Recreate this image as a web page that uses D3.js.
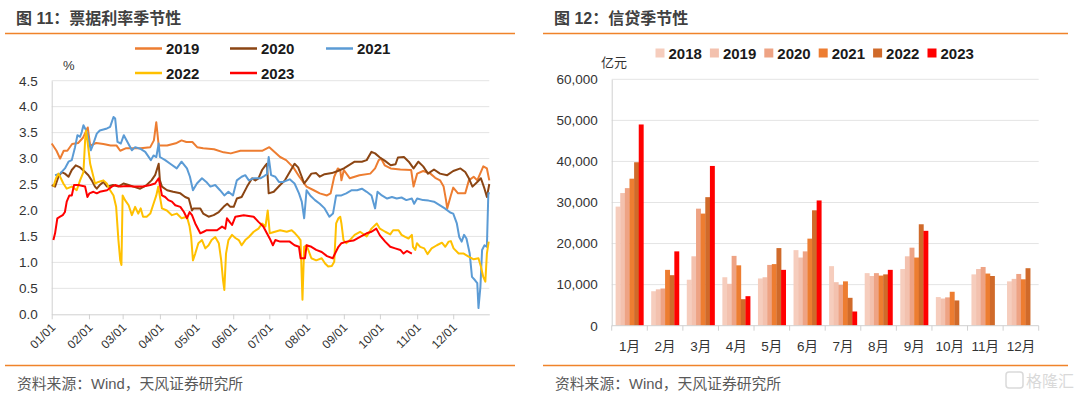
<!DOCTYPE html>
<html>
<head>
<meta charset="utf-8">
<script src="https://cdn.jsdelivr.net/npm/d3@7"></script>
<style>
  body{margin:0;background:#fff;}
  svg{display:block;font-family:"Liberation Sans",Arial,"Noto Sans CJK SC",sans-serif;}
  .title{font-size:16px;font-weight:bold;fill:#404040;font-family:"Liberation Sans","Noto Sans CJK SC",sans-serif;}
  .source{font-size:14.8px;fill:#595959;}
  .tick-label{font-size:13px;fill:#333;}
  .legend-label{font-size:15px;font-weight:bold;fill:#1a1a1a;}
</style>
</head>
<body>
<svg id="chart" width="1080" height="395"></svg>
<script>
// data ------------------------------------------------
// left chart: bill rate by day of year (0 = 01/01), %
var rate2019=[[0,3.29],[4,3.15],[7,3.0],[10,3.15],[13,3.15],[17,3.28],[22,3.3],[26,3.4],[30,3.6],[32,3.25],[37,3.3],[43,3.28],[49,3.25],[54,3.25],[57,3.15],[62,3.2],[74,3.2],[82,3.22],[85,3.35],[87,3.7],[89,3.25],[96,3.25],[104,3.3],[108,3.35],[112,3.32],[117,3.32],[121,3.22],[126,3.2],[135,3.18],[143,3.12],[149,3.1],[157,3.15],[168,3.15],[175,3.15],[181,3.22],[190,3.03],[195,2.97],[201,2.83],[206,2.65],[212,2.46],[218,2.39],[223,2.33],[229,2.29],[232,2.33],[235,2.65],[238,2.81],[240,2.78],[241,2.58],[243,2.78],[248,2.62],[256,2.68],[265,2.71],[269,2.81],[272,2.97],[274,3.0],[277,2.87],[282,2.81],[290,2.79],[299,2.78],[301,2.46],[304,2.71],[309,2.76],[315,2.71],[319,2.63],[323,2.58],[326,2.46],[328,2.2],[329,2.04],[332,2.29],[334,2.44],[338,2.33],[344,2.33],[347,2.58],[351,2.65],[354,2.58],[359,2.85],[362,2.81],[364,2.58]];
var rate2020=[[0,2.49],[2.8,2.46],[5.6,2.65],[8.3,2.74],[11,2.71],[14,2.65],[16.7,2.78],[20,2.87],[23.6,2.83],[27.8,2.74],[30.5,2.68],[33.3,2.58],[36,2.46],[37.5,2.42],[40,2.49],[43,2.55],[46,2.46],[51,2.49],[55.5,2.46],[59.7,2.52],[64,2.49],[68,2.46],[73.6,2.42],[79,2.49],[83,2.58],[86,2.68],[89,2.9],[90,2.58],[91.7,2.46],[96,2.39],[101,2.36],[107,2.33],[111,2.26],[114,2.23],[116.7,2.0],[118,2.04],[123.6,2.04],[126,1.94],[130.5,1.88],[134.7,1.91],[139,1.97],[143,2.07],[146,2.13],[148.6,2.07],[151.4,2.07],[154,2.23],[158,2.26],[162.5,2.46],[166.7,2.62],[169.4,2.58],[172,2.62],[175,2.78],[177.8,2.87],[179,2.9],[180.5,2.33],[184.7,2.36],[190,2.49],[194,2.58],[198,2.74],[202,2.9],[205,2.83],[208,2.65],[210,2.52],[212,2.58],[216,2.71],[220,2.72],[223,2.65],[227,2.7],[233,2.72],[238,2.76],[243,2.81],[247,2.87],[252,2.94],[258,2.94],[262,2.97],[266,3.13],[269,3.1],[273,3.02],[277,2.96],[282,2.87],[286,2.89],[288,3.02],[293,3.03],[297,2.94],[301,2.81],[305,2.94],[309,2.85],[313,2.71],[318,2.79],[323,2.71],[329,2.68],[334,2.76],[340,2.81],[344,2.74],[347,2.62],[350,2.46],[354,2.55],[357,2.62],[360,2.42],[362,2.26],[364,2.51]];
var rate2021=[[2.8,2.68],[7,2.71],[11,2.81],[14,2.94],[16.7,2.97],[19.4,3.22],[21.4,3.45],[23.6,3.42],[25,3.51],[26.4,3.64],[27.8,3.58],[29.7,3.48],[32.5,3.16],[34.7,3.29],[37.5,3.48],[40,3.54],[46,3.58],[48.6,3.61],[51.4,3.8],[52.8,3.77],[54.7,3.32],[57.5,3.29],[60,3.45],[63,3.32],[66.7,3.16],[69.4,3.22],[73.6,3.19],[77.8,3.13],[82.5,2.97],[84.7,3.06],[87,3.03],[89,3.29],[90,3.03],[94.4,2.97],[98.6,2.9],[104,2.81],[108,2.94],[112.5,2.81],[115,2.65],[117.5,2.39],[120.8,2.52],[125,2.62],[128.6,2.55],[132,2.46],[136,2.49],[140,2.39],[143.6,2.29],[147,2.36],[150.8,2.29],[154,2.58],[158,2.65],[161,2.68],[164,2.58],[168,2.62],[173.6,2.62],[176,2.65],[179,2.7],[180.5,3.03],[182.5,2.68],[186,2.65],[189,2.55],[192.7,2.55],[198,2.6],[202,2.52],[205.7,2.33],[208,2.17],[210,1.85],[212,2.39],[215,2.29],[219,2.2],[223,2.13],[227,2.04],[231,1.88],[234,1.94],[236.6,2.29],[241,2.29],[245,2.33],[249.6,2.39],[254,2.39],[258,2.42],[262,2.36],[266,2.29],[269,2.04],[271,2.36],[274.6,2.29],[279,2.23],[283,2.26],[287,2.23],[291,2.25],[295,2.2],[299.6,2.23],[301.5,2.13],[304,2.23],[309,2.2],[313.5,2.19],[318,2.17],[323,2.1],[327,2.04],[331.5,1.96],[334,1.94],[337,1.75],[339,1.49],[341,1.4],[343,1.53],[345,1.46],[347.7,1.17],[349.6,0.72],[352,0.66],[354,0.6],[355,0.12],[356.6,0.53],[358,1.24],[360,1.33],[362,1.3],[363.2,2.33],[364.4,2.33]];
var rate2022=[[1.4,2.46],[3.6,2.62],[5.6,2.71],[7,2.65],[9.7,2.52],[12.5,2.42],[16.7,2.46],[20.8,2.39],[23.6,2.58],[26.4,2.74],[27.8,3.35],[28.6,3.54],[29.7,3.35],[32,2.9],[34.7,2.65],[36,2.52],[38.9,2.55],[43,2.58],[45.8,2.52],[48.6,2.39],[51.4,2.29],[53.6,2.07],[55.5,1.43],[57,1.04],[58,0.95],[59,2.29],[61,2.2],[64,2.1],[66.7,1.91],[69.4,2.07],[72,1.94],[74,2.04],[76,1.88],[79,1.88],[82,1.94],[84.7,2.13],[87,2.29],[88.6,2.46],[90.3,2.23],[91.7,2.04],[95.8,2.0],[100,1.91],[104,1.94],[108,1.85],[112.5,1.88],[114.7,1.69],[116,1.49],[117.5,1.04],[119.4,1.17],[122,1.37],[125,1.43],[127.8,1.27],[130.5,1.33],[133,1.43],[136,1.49],[139,1.37],[141,1.04],[142.5,0.66],[143.6,0.47],[145,1.17],[147,1.43],[150,1.53],[152.8,1.47],[155.6,1.43],[158,1.33],[161,1.43],[164,1.49],[168,1.59],[172,1.65],[175,1.75],[177.8,1.69],[179.7,2.0],[181.4,1.56],[185.7,1.59],[190,1.62],[195.5,1.59],[199.6,1.62],[202.4,1.56],[205,1.49],[207,1.43],[208.6,0.28],[210,1.3],[212,1.33],[216,1.08],[220,1.04],[224.6,1.08],[227.4,0.98],[230,0.92],[233,0.93],[235,1.01],[236.6,1.75],[238.5,1.85],[240,1.88],[241,1.75],[242.7,1.43],[245,1.37],[248,1.43],[252,1.53],[256.5,1.59],[262,1.5],[266,1.65],[270.4,1.75],[273,1.65],[277.4,1.59],[281.6,1.54],[284,1.62],[288.5,1.62],[291,1.53],[294,1.49],[296.8,1.46],[299.6,1.53],[300.5,1.3],[302.4,1.24],[303.8,1.37],[306.5,1.3],[309.9,1.27],[312.6,1.16],[316,1.27],[320.4,1.33],[324.6,1.38],[327.4,1.3],[330.2,1.4],[332,1.41],[334.3,1.27],[338.5,1.17],[342.7,1.17],[346.8,1.11],[351,1.06],[355,1.08],[357,0.92],[359,0.72],[360.7,0.63],[362,1.17],[363.5,1.4]];
var rate2023=[[1.4,1.43],[2.8,1.56],[4.7,1.85],[7,1.88],[9.2,1.91],[11,1.97],[12.5,2.17],[14.7,2.29],[16.7,2.29],[18.6,2.49],[22,2.49],[27.8,2.46],[29.7,2.26],[31.4,2.33],[34.7,2.36],[37.5,2.33],[40,2.36],[46,2.39],[50,2.46],[52.8,2.49],[57,2.46],[62.5,2.47],[68,2.46],[76,2.46],[82,2.49],[86,2.52],[89,2.62],[90.3,2.46],[91.7,2.29],[94.4,2.26],[97,2.2],[100,2.17],[102.8,2.1],[107,2.07],[110,1.97],[112.5,1.85],[114.7,1.97],[116.7,1.91],[119.4,1.75],[123.6,1.56],[126.4,1.59],[129,1.62],[137.5,1.62],[141.7,1.69],[144.4,1.65],[145.8,1.85],[148,1.78],[150,1.72],[152.8,1.88],[159.7,1.91],[168,1.88],[172,1.78],[176,1.69],[179,1.56],[182,1.43],[184,1.33],[186,1.43],[190,1.4],[192.7,1.4],[198,1.4],[202,1.33],[205.7,1.3],[207,1.08],[210.7,1.08],[212,1.33],[216,1.3],[220,1.24],[224.6,1.2],[229,1.12],[233.8,1.08],[235.7,1.17],[238.5,1.3],[241,1.37],[245.4,1.4],[251,1.42],[256.5,1.49],[262,1.56],[266,1.59],[270,1.65],[273,1.52],[277.4,1.4],[281.6,1.3],[285.7,1.27],[290,1.24],[292.7,1.17],[295.4,1.22],[299.6,1.17]];

var rateYears=['2019','2020','2021','2022','2023'];
var rateColors=['#ed7d31','#8b4513','#5b9bd5','#ffc000','#ff0000'];
var rateSeries=[rate2019,rate2020,rate2021,rate2022,rate2023];
var rateTicks=[0,0.5,1,1.5,2,2.5,3,3.5,4,4.5];

// right chart: new loans by month, 亿元
var months=['1月','2月','3月','4月','5月','6月','7月','8月','9月','10月','11月','12月'];
var loanYears=['2018','2019','2020','2021','2022','2023'];
var loanColors=['#f6cdbd','#f3c1ae','#eea384','#ed7d31','#d06a2a','#ff0000'];
var loan2018=[29000,8393,11200,11800,11500,18400,14500,12800,13800,6970,12500,10800];
var loan2019=[32300,8858,16900,10200,11800,16600,10600,12100,16900,6613,13800,11400];
var loan2020=[33500,9057,28500,17000,14800,18100,9927,12800,19000,6898,14300,12600];
var loan2021=[35800,13600,27300,14700,15000,21200,10800,12200,16600,8262,12700,11300];
var loan2022=[39800,12300,31300,6454,18900,28100,6790,12500,24700,6152,12100,14000];
var loan2023=[49000,18100,38900,7188,13600,30500,3459,13600,23100,null,null,null];
var loanSeries=[loan2018,loan2019,loan2020,loan2021,loan2022,loan2023];
var loanTicks=[0,10000,20000,30000,40000,50000,60000];

// dom -------------------------------------------------
var svg=d3.select('#chart');
svg.append('rect').attr('width',1080).attr('height',395).attr('fill','#fff');

var orange='#f0832a';
var gridColor='#e4e4e4';
var axisColor='#d0d0d0';

//frames, titles and sources
function frame(x0,x1,title){
  svg.append('text').attr('class','title').attr('x',x0+11).attr('y',24).text(title);
  svg.append('line').attr('x1',x0).attr('x2',x1).attr('y1',33.5).attr('y2',33.5)
    .attr('stroke',orange).attr('stroke-width',1.6);
  svg.append('line').attr('x1',x0).attr('x2',x1).attr('y1',365.5).attr('y2',365.5)
    .attr('stroke',orange).attr('stroke-width',1.6);
  svg.append('text').attr('class','source').attr('x',x0+12).attr('y',389).text('资料来源：Wind，天风证券研究所');
}
frame(5,515,'图 11：票据利率季节性');
frame(543,1068,'图 12：信贷季节性');

// left: line chart ------------------------------------
var base=new Date(2019,0,1);
function dayDate(d){return new Date(base.getTime()+d*864e5);}

var x=d3.scaleTime().domain([base,new Date(2019,11,31)]).range([51.7,489.3]);
var y=d3.scaleLinear().domain([0,4.5]).range([314.3,80.7]);

var left=svg.append('g');
left.selectAll('.grid').data(rateTicks.slice(1)).enter().append('line')
  .attr('x1',x.range()[0]).attr('x2',x.range()[1])
  .attr('y1',d=>y(d)).attr('y2',d=>y(d))
  .attr('stroke',gridColor).attr('stroke-width',1);

var yAxisL=left.append('g').attr('transform','translate('+x.range()[0]+',0)')
  .call(d3.axisLeft(y).tickValues(rateTicks).tickFormat(d3.format('.1f')).tickSize(0).tickPadding(14));
yAxisL.select('.domain').attr('stroke',axisColor);
yAxisL.selectAll('text').attr('class','tick-label').style('font-size','13.5px');

var xAxisL=left.append('g').attr('transform','translate(0,'+y(0)+')')
  .call(d3.axisBottom(x).ticks(d3.timeMonth.every(1)).tickFormat(d3.timeFormat('%m/%d')).tickSize(5).tickSizeOuter(0));
xAxisL.select('.domain').attr('stroke',axisColor);
xAxisL.selectAll('line').attr('stroke',axisColor);
xAxisL.selectAll('text').attr('class','tick-label').style('font-size','12px')
  .attr('text-anchor','end').attr('dy',0).attr('y',0)
  .attr('transform','translate(4,14) rotate(-45)');

var line=d3.line().x(d=>x(dayDate(d[0]))).y(d=>y(d[1]));
rateSeries.forEach((s,i)=>{
  left.append('path').datum(s).attr('d',line)
    .attr('fill','none').attr('stroke',rateColors[i]).attr('stroke-width',2)
    .attr('stroke-linejoin','round');
});

left.append('text').attr('x',63).attr('y',70).style('font-size','13px').attr('fill','#333').text('%');

//legend: 3 in first row, 2 in second
var legPos=[[135,48.5],[230,48.5],[326,48.5],[135,73],[230,73]];
rateYears.forEach((yr,i)=>{
  var p=legPos[i];
  left.append('line').attr('x1',p[0]).attr('x2',p[0]+27).attr('y1',p[1]).attr('y2',p[1])
    .attr('stroke',rateColors[i]).attr('stroke-width',2.5);
  left.append('text').attr('class','legend-label').attr('x',p[0]+31).attr('y',p[1]+5.5).text(yr);
});

// right: grouped bars ---------------------------------
var xm=d3.scaleBand().domain(months).range([611.7,1038.7]).paddingInner(0.22).paddingOuter(0.11);
var xy=d3.scaleBand().domain(loanYears).range([0,xm.bandwidth()]);
var yl=d3.scaleLinear().domain([0,60000]).range([325.7,79.3]);

var right=svg.append('g');
right.selectAll('.grid').data(loanTicks.slice(1)).enter().append('line')
  .attr('x1',611.7).attr('x2',1038.7)
  .attr('y1',d=>yl(d)).attr('y2',d=>yl(d))
  .attr('stroke',gridColor).attr('stroke-width',1);

var yAxisR=right.append('g').attr('transform','translate(611.7,0)')
  .call(d3.axisLeft(yl).tickValues(loanTicks).tickFormat(d3.format(',')).tickSize(0).tickPadding(14));
yAxisR.select('.domain').attr('stroke',axisColor);
yAxisR.selectAll('text').attr('class','tick-label').style('font-size','13.5px');

//bars
loanSeries.forEach((s,j)=>{
  right.append('g').selectAll('rect')
    .data(s.map((v,i)=>({m:months[i],v:v})).filter(d=>d.v!=null))
    .enter().append('rect')
    .attr('x',d=>xm(d.m)+xy(loanYears[j]))
    .attr('width',xy.bandwidth()+0.3)
    .attr('y',d=>yl(d.v))
    .attr('height',d=>yl(0)-yl(d.v))
    .attr('fill',loanColors[j]);
});

//baseline with ticks between months
right.append('line').attr('x1',611.7).attr('x2',1038.7).attr('y1',yl(0)).attr('y2',yl(0)).attr('stroke',axisColor);
var step=xm.step();
right.selectAll('.mtick').data(d3.range(months.length+1)).enter().append('line')
  .attr('x1',d=>611.7+d*step).attr('x2',d=>611.7+d*step)
  .attr('y1',yl(0)).attr('y2',yl(0)+5).attr('stroke',axisColor);
right.selectAll('.mlabel').data(months).enter().append('text')
  .attr('class','tick-label').style('font-size','13.5px')
  .attr('x',d=>xm(d)+xm.bandwidth()/2).attr('y',351).attr('text-anchor','middle').text(d=>d);

right.append('text').attr('x',601).attr('y',67).style('font-size','13px').attr('fill','#333').text('亿元');

//legend squares
loanYears.forEach((yr,i)=>{
  var lx=655.5+i*54.4;
  right.append('rect').attr('x',lx).attr('y',48.5).attr('width',9).attr('height',9).attr('fill',loanColors[i]);
  right.append('text').attr('class','legend-label').attr('x',lx+13).attr('y',58.5).text(yr);
});

//watermark
var wm=svg.append('g').attr('opacity',0.55);
wm.append('rect').attr('x',1006).attr('y',372).attr('width',17).attr('height',16).attr('rx',3)
  .attr('fill','none').attr('stroke','#bbb').attr('stroke-width',1.5);
wm.append('text').attr('x',1026).attr('y',386.5).style('font-size','16px').attr('fill','#bbb').text('格隆汇');
</script>
</body>
</html>
